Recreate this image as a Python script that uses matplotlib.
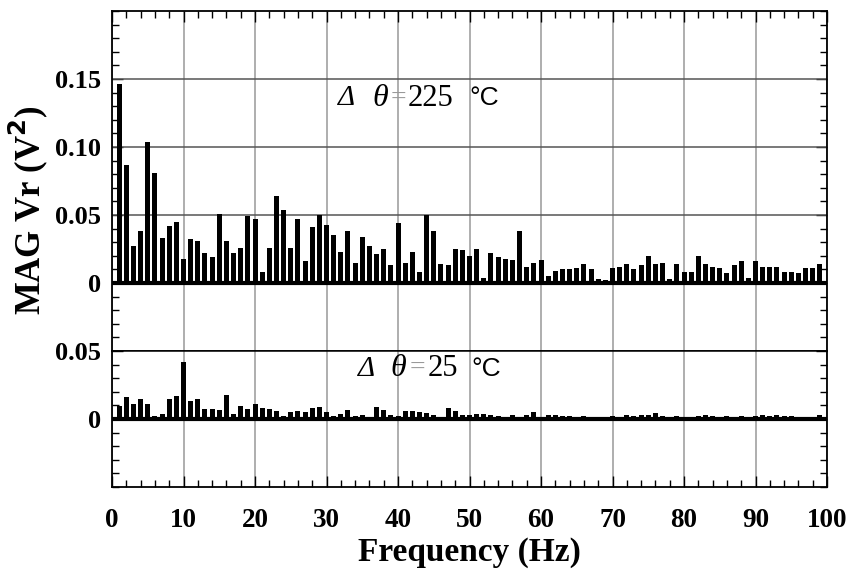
import numpy as np
import matplotlib
matplotlib.use('Agg')
import matplotlib.pyplot as plt
from matplotlib.ticker import MultipleLocator, FixedLocator

# Frequency bins (Hz)
freq = np.arange(1, 101)

# Spectrum magnitude, delta theta = 225 C
mag_225 = [0.146, 0.087, 0.027, 0.038, 0.104, 0.081, 0.033, 0.042, 0.045, 0.018,
           0.032, 0.031, 0.022, 0.019, 0.051, 0.031, 0.022, 0.026, 0.049, 0.047,
           0.008, 0.026, 0.064, 0.054, 0.026, 0.047, 0.016, 0.041, 0.050, 0.043,
           0.035, 0.023, 0.038, 0.015, 0.034, 0.027, 0.021, 0.025, 0.013, 0.044,
           0.015, 0.023, 0.008, 0.050, 0.038, 0.014, 0.013, 0.025, 0.024, 0.020,
           0.025, 0.004, 0.022, 0.019, 0.018, 0.017, 0.038, 0.012, 0.015, 0.017,
           0.005, 0.009, 0.010, 0.010, 0.011, 0.014, 0.010, 0.003, 0.002, 0.011,
           0.012, 0.014, 0.010, 0.013, 0.020, 0.014, 0.015, 0.003, 0.014, 0.008,
           0.008, 0.020, 0.014, 0.012, 0.011, 0.007, 0.013, 0.016, 0.004, 0.016,
           0.012, 0.012, 0.012, 0.008, 0.008, 0.007, 0.011, 0.011, 0.014, 0.000]

# Spectrum magnitude, delta theta = 25 C
mag_25 = [0.0095, 0.016, 0.011, 0.015, 0.011, 0.0025, 0.004, 0.0145, 0.017, 0.042,
          0.013, 0.015, 0.0075, 0.0075, 0.0065, 0.018, 0.0035, 0.0095, 0.007, 0.011,
          0.008, 0.007, 0.006, 0.002, 0.005, 0.006, 0.0055, 0.008, 0.009, 0.005,
          0.0025, 0.004, 0.0065, 0.002, 0.003, 0.001, 0.009, 0.0065, 0.003, 0.002,
          0.006, 0.006, 0.005, 0.0045, 0.003, 0.001, 0.008, 0.006, 0.003, 0.0027,
          0.0037, 0.0037, 0.0027, 0.0022, 0.001, 0.003, 0.0008, 0.0027, 0.005, 0.001,
          0.003, 0.0027, 0.0022, 0.0022, 0.0018, 0.0022, 0.001, 0.0018, 0.001, 0.002,
          0.001, 0.003, 0.002, 0.003, 0.003, 0.0045, 0.002, 0.001, 0.002, 0.001,
          0.001, 0.002, 0.003, 0.002, 0.001, 0.002, 0.001, 0.002, 0.001, 0.002,
          0.003, 0.002, 0.003, 0.002, 0.002, 0.001, 0.001, 0.001, 0.003, 0.000]

serif = ['Liberation Serif', 'DejaVu Serif']
plt.rcParams['font.family'] = serif

fig = plt.figure(figsize=(8.52, 5.70), dpi=100)
ax1 = fig.add_axes([0.1315, 0.3842, 0.8392, 0.5965])
ax2 = fig.add_axes([0.1315, 0.1456, 0.8392, 0.2386])

for ax in (ax1, ax2):
    ax.set_xlim(0, 100)
    ax.xaxis.set_major_locator(MultipleLocator(10))
    ax.xaxis.set_minor_locator(MultipleLocator(2))
    ax.yaxis.set_minor_locator(MultipleLocator(0.01))
    ax.tick_params(which='both', direction='in', left=True, right=True, width=1)
    ax.tick_params(which='major', length=8)
    ax.tick_params(which='minor', length=5)
    ax.tick_params(axis='y', pad=8)
    ax.grid(True, axis='x', color='#999999', linewidth=1.1)
    ax.axhline(0, color='black', linewidth=3, zorder=3)
    ax.set_axisbelow(True)
    for s in ax.spines.values():
        s.set_linewidth(1.3)

# upper panel
ax1.bar(freq, mag_225, width=0.7, color='black', zorder=2)
ax1.set_ylim(-0.05, 0.2)
ax1.yaxis.set_major_locator(FixedLocator([0, 0.05, 0.10, 0.15]))
ax1.set_yticklabels(['0', '0.05', '0.10', '0.15'])
for v in [0.05, 0.10, 0.15]:
    ax1.axhline(v, color='#555555', linewidth=1.1, zorder=1)
ax1.tick_params(which='both', top=True, bottom=False, labelbottom=False)

# lower panel
ax2.bar(freq, mag_25, width=0.7, color='black', zorder=2)
ax2.set_ylim(-0.05, 0.05)
ax2.yaxis.set_major_locator(FixedLocator([0, 0.05]))
ax2.set_yticklabels(['0', '0.05'])
ax2.tick_params(which='both', top=False, bottom=True)
ax2.tick_params(axis='x', pad=15)
ax2.spines['top'].set_linewidth(1.1)

for ax in (ax1, ax2):
    for lab in ax.get_yticklabels():
        lab.set_fontsize(19)
        lab.set_fontweight('bold')
for lab in ax2.get_xticklabels():
    lab.set_fontsize(19.5)
    lab.set_fontweight('bold')

ax2.set_xlabel('Frequency (Hz)', fontsize=24, fontweight='bold', labelpad=3)
fig.text(0.033, 0.632, 'MAG Vr (V$^\\mathbf{2}$)', rotation=90, fontsize=25,
         fontweight='bold', ha='center', va='center')

# annotations: delta theta labels
def label(ax, xs, y, num):
    ax.text(xs[0], y, '\u0394', fontsize=21, style='italic', va='center')
    ax.text(xs[1], y, '\u03b8', fontsize=23, style='italic', va='center')
    ax.text(xs[2], y, '=', fontsize=20, va='center', color='#999999')
    ax.text(xs[3], y, num, fontsize=22, va='center')
    ax.text(xs[4], y, '\u00b0C', fontsize=19, va='center', family='Liberation Sans')

label(ax1, [31.6, 36.4, 38.9, 41.4, 50.0], 0.136, '225')
label(ax2, [34.4, 38.9, 41.6, 44.1, 50.2], 0.037, '25')

plt.savefig('out.png', dpi=100)
